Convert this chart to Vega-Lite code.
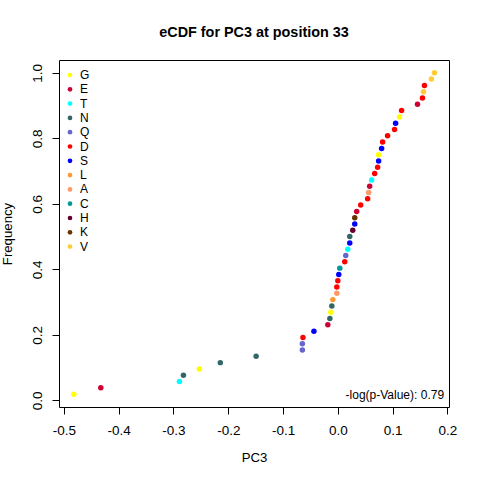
{
  "$schema": "https://vega.github.io/schema/vega-lite/v6.json",
  "width": 390,
  "height": 347,
  "autosize": {"type": "none"},
  "padding": {"left": 59, "top": 60, "right": 31, "bottom": 73},
  "background": "white",
  "title": {
    "text": "eCDF for PC3 at position 33",
    "font": "Liberation Sans",
    "fontSize": 14.4,
    "fontWeight": "bold",
    "color": "black",
    "offset": 20
  },
  "layer": [
    {
      "data": {
        "values": [
          {"PC3": -0.4818, "Frequency": 0.0192, "aa": "G"},
          {"PC3": -0.4327, "Frequency": 0.0385, "aa": "E"},
          {"PC3": -0.2891, "Frequency": 0.0577, "aa": "T"},
          {"PC3": -0.2818, "Frequency": 0.0769, "aa": "N"},
          {"PC3": -0.2527, "Frequency": 0.0962, "aa": "G"},
          {"PC3": -0.2145, "Frequency": 0.1154, "aa": "N"},
          {"PC3": -0.1491, "Frequency": 0.1346, "aa": "N"},
          {"PC3": -0.0647, "Frequency": 0.1538, "aa": "Q"},
          {"PC3": -0.0647, "Frequency": 0.1731, "aa": "Q"},
          {"PC3": -0.0636, "Frequency": 0.1923, "aa": "D"},
          {"PC3": -0.0436, "Frequency": 0.2115, "aa": "S"},
          {"PC3": -0.0182, "Frequency": 0.2308, "aa": "E"},
          {"PC3": -0.0145, "Frequency": 0.25, "aa": "N"},
          {"PC3": -0.0127, "Frequency": 0.2692, "aa": "G"},
          {"PC3": -0.0109, "Frequency": 0.2885, "aa": "N"},
          {"PC3": -0.0091, "Frequency": 0.3077, "aa": "L"},
          {"PC3": -0.0018, "Frequency": 0.3269, "aa": "A"},
          {"PC3": -0.0018, "Frequency": 0.3462, "aa": "D"},
          {"PC3": 0.0, "Frequency": 0.3654, "aa": "D"},
          {"PC3": 0.0018, "Frequency": 0.3846, "aa": "S"},
          {"PC3": 0.0036, "Frequency": 0.4038, "aa": "C"},
          {"PC3": 0.0127, "Frequency": 0.4231, "aa": "D"},
          {"PC3": 0.0145, "Frequency": 0.4423, "aa": "Q"},
          {"PC3": 0.0182, "Frequency": 0.4615, "aa": "T"},
          {"PC3": 0.0218, "Frequency": 0.4808, "aa": "S"},
          {"PC3": 0.0218, "Frequency": 0.5, "aa": "N"},
          {"PC3": 0.0273, "Frequency": 0.5192, "aa": "H"},
          {"PC3": 0.0309, "Frequency": 0.5385, "aa": "S"},
          {"PC3": 0.0309, "Frequency": 0.5577, "aa": "K"},
          {"PC3": 0.0345, "Frequency": 0.5769, "aa": "E"},
          {"PC3": 0.0418, "Frequency": 0.5962, "aa": "D"},
          {"PC3": 0.0545, "Frequency": 0.6154, "aa": "D"},
          {"PC3": 0.0564, "Frequency": 0.6346, "aa": "A"},
          {"PC3": 0.0582, "Frequency": 0.6538, "aa": "E"},
          {"PC3": 0.0618, "Frequency": 0.6731, "aa": "T"},
          {"PC3": 0.0673, "Frequency": 0.6923, "aa": "D"},
          {"PC3": 0.0727, "Frequency": 0.7115, "aa": "D"},
          {"PC3": 0.0745, "Frequency": 0.7308, "aa": "S"},
          {"PC3": 0.0745, "Frequency": 0.75, "aa": "G"},
          {"PC3": 0.08, "Frequency": 0.7692, "aa": "S"},
          {"PC3": 0.0818, "Frequency": 0.7885, "aa": "D"},
          {"PC3": 0.0909, "Frequency": 0.8077, "aa": "D"},
          {"PC3": 0.1036, "Frequency": 0.8269, "aa": "D"},
          {"PC3": 0.1055, "Frequency": 0.8462, "aa": "S"},
          {"PC3": 0.1127, "Frequency": 0.8654, "aa": "G"},
          {"PC3": 0.1164, "Frequency": 0.8846, "aa": "D"},
          {"PC3": 0.1455, "Frequency": 0.9038, "aa": "E"},
          {"PC3": 0.1545, "Frequency": 0.9231, "aa": "D"},
          {"PC3": 0.1564, "Frequency": 0.9423, "aa": "V"},
          {"PC3": 0.1582, "Frequency": 0.9615, "aa": "D"},
          {"PC3": 0.1709, "Frequency": 0.9808, "aa": "V"},
          {"PC3": 0.1764, "Frequency": 1.0, "aa": "V"}
        ]
      },
      "mark": {"type": "point", "shape": "circle", "filled": true, "size": 30, "opacity": 1},
      "encoding": {
        "x": {
          "field": "PC3",
          "type": "quantitative",
          "title": "PC3",
          "scale": {"domain": [-0.509, 0.203], "nice": false, "zero": false},
          "axis": {
            "values": [-0.5, -0.4, -0.3, -0.2, -0.1, 0, 0.1, 0.2],
            "labelExpr": "datum.value < 0 ? '-' + format(-datum.value, '.1f') : format(datum.value, '.1f')",
            "labelPadding": 9,
            "titlePadding": 15
          }
        },
        "y": {
          "field": "Frequency",
          "type": "quantitative",
          "title": "Frequency",
          "scale": {"domain": [-0.02, 1.039], "nice": false, "zero": false},
          "axis": {
            "values": [0, 0.2, 0.4, 0.6, 0.8, 1],
            "format": ".1f",
            "labelAngle": -90,
            "labelAlign": "center",
            "labelBaseline": "alphabetic",
            "labelPadding": 11,
            "titlePadding": 16
          }
        },
        "color": {
          "field": "aa",
          "type": "nominal",
          "scale": {
            "domain": ["G", "E", "T", "N", "Q", "D", "S", "L", "A", "C", "H", "K", "V"],
            "range": ["#FFFF00", "#CC0033", "#00FFFF", "#336666", "#6666CC", "#FF0000", "#0000FF", "#FF9933", "#FF9966", "#009999", "#660033", "#663300", "#FFCC33"]
          },
          "legend": {
            "orient": "none",
            "legendX": 5,
            "legendY": 9,
            "title": null,
            "padding": 0,
            "symbolType": "circle",
            "symbolSize": 22,
            "symbolStrokeWidth": 0,
            "labelFont": "Liberation Sans",
            "labelFontSize": 12,
            "labelColor": "black",
            "labelOffset": 4,
            "rowPadding": 2.3
          }
        }
      }
    },
    {
      "data": {"values": [{"note": "-log(p-Value): 0.79"}]},
      "mark": {
        "type": "text",
        "align": "right",
        "baseline": "middle",
        "font": "Liberation Sans",
        "fontSize": 12,
        "color": "black"
      },
      "encoding": {
        "x": {"datum": 0.194},
        "y": {"datum": 0.017},
        "text": {"field": "note", "type": "nominal"}
      }
    }
  ],
  "config": {
    "view": {"stroke": "black", "strokeWidth": 1},
    "axis": {
      "grid": false,
      "domain": false,
      "ticks": true,
      "tickColor": "black",
      "tickSize": 7,
      "labelFont": "Liberation Sans",
      "labelFontSize": 13.5,
      "labelColor": "black",
      "titleFont": "Liberation Sans",
      "titleFontSize": 13.2,
      "titleFontWeight": "normal",
      "titleColor": "black"
    }
  }
}
